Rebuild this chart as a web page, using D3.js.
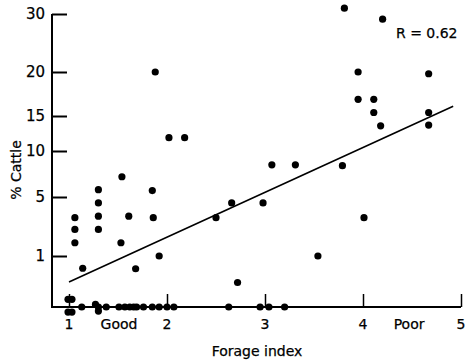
<!DOCTYPE html>
<html>
<head>
<meta charset="utf-8">
<script src="https://cdn.jsdelivr.net/npm/d3@7"></script>
<style>
body{margin:0;background:#fff;}
text{font-family:"DejaVu Sans",sans-serif;fill:#000;stroke:#000;stroke-width:0.25px;}
</style>
</head>
<body>
<svg id="chart" width="466" height="361"></svg>
<script>
// forage index vs % cattle
var forage = [3.81,4.20,1.88,3.95,4.67,3.95,4.11,4.11,4.67,4.18,4.67,2.02,2.18,
              3.07,3.31,3.79,1.54,1.30,1.85,1.30,2.66,2.98,1.06,1.30,1.61,1.86,2.50,4.01,
              1.06,1.30,1.06,1.53,1.92,3.54,1.14,1.68,2.72];
var cattle = [31,29.1,20,20,19.8,16.9,16.9,15.4,15.4,13.6,13.7,11.9,11.9,
              8.5,8.5,8.4,7.2,5.8,5.7,4.6,4.6,4.6,3.6,3.7,3.7,3.6,3.6,3.6,
              2.8,2.8,1.9,1.9,1.0,1.0,0.76,0.75,0.48];
// points lying on the zero line
var zeroForage = [0.99,1.03,0.99,1.03,1.13,1.27,1.30,1.30,1.38,1.51,1.57,1.62,1.66,1.69,
                  1.76,1.85,1.92,2.0,2.07,2.63,2.95,3.04,3.2];
var zeroCattle = [0.15,0.15,-0.1,-0.1,0,0.05,0,-0.08,0,0,0,0,0,0,0,0,0,0,0,0,0,0,0];

var regForage = [1.0,4.92];
var regCattle = [0.49,16.1];

var xTicks = [1,2,3,4,5];
var yTicks = [1,5,10,15,20,30];
var xWords = [{v:1.51,t:"Good"},{v:4.47,t:"Poor"}];

var svg = d3.select("#chart");

var x = d3.scaleLinear().domain([1,5]).range([69,461]);
// the y axis of the original is a transformed (non linear) scale
var y = d3.scaleLinear().domain([0,1,5,10,15,20,30]).range([307,256,197,151,116,72,14]);

var left = 52, bottom = 307;

// axes
var yAxis = d3.axisRight(y).tickValues(yTicks).tickSize(15).tickFormat("");
var gy = svg.append("g").attr("transform","translate("+left+",0)").call(yAxis);
gy.select(".domain").remove();
gy.selectAll("line").attr("stroke","#000").attr("stroke-width",2);

var xAxis = d3.axisTop(x).tickValues(xTicks).tickSize(13).tickFormat("");
var gx = svg.append("g").attr("transform","translate(0,"+bottom+")").call(xAxis);
gx.select(".domain").remove();
gx.selectAll("line").attr("stroke","#000").attr("stroke-width",1.5);

svg.append("path")
	.attr("d","M"+left+","+y(30)+"V"+bottom+"H"+x(5))
	.attr("fill","none").attr("stroke","#000").attr("stroke-width",2);

// tick labels
svg.selectAll(".ylab").data(yTicks).enter().append("text")
	.attr("class","ylab")
	.attr("x",left-7).attr("y",function(d){return y(d)+5;})
	.attr("text-anchor","end").style("font-size","15px")
	.text(function(d){return d;});

svg.selectAll(".xlab").data(xTicks).enter().append("text")
	.attr("class","xlab")
	.attr("x",function(d){return x(d);}).attr("y",bottom+22)
	.attr("text-anchor","middle").style("font-size","14px")
	.text(function(d){return d;});

svg.selectAll(".xword").data(xWords).enter().append("text")
	.attr("class","xword")
	.attr("x",function(d){return x(d.v);}).attr("y",bottom+22)
	.attr("text-anchor","middle").style("font-size","14px")
	.text(function(d){return d.t;});

svg.append("text")
	.attr("x",257).attr("y",356)
	.attr("text-anchor","middle").style("font-size","14px")
	.text("Forage index");

svg.append("text")
	.attr("transform","translate(21,170) rotate(-90)")
	.attr("text-anchor","middle").style("font-size","14px")
	.text("% Cattle");

svg.append("text")
	.attr("x",396).attr("y",38).style("font-size","14px")
	.text("R = 0.62");

// regression line
svg.append("line")
	.attr("x1",x(regForage[0])).attr("y1",y(regCattle[0]))
	.attr("x2",x(regForage[1])).attr("y2",y(regCattle[1]))
	.attr("stroke","#000").attr("stroke-width",1.6);

// points
var pts = forage.map(function(d,i){return [d,cattle[i]];})
	.concat(zeroForage.map(function(d,i){return [d,zeroCattle[i]];}));

svg.selectAll("circle").data(pts).enter().append("circle")
	.attr("cx",function(d){return x(d[0]);})
	.attr("cy",function(d){return y(d[1]);})
	.attr("r",3.6)
	.attr("fill","#000");
</script>
</body>
</html>
